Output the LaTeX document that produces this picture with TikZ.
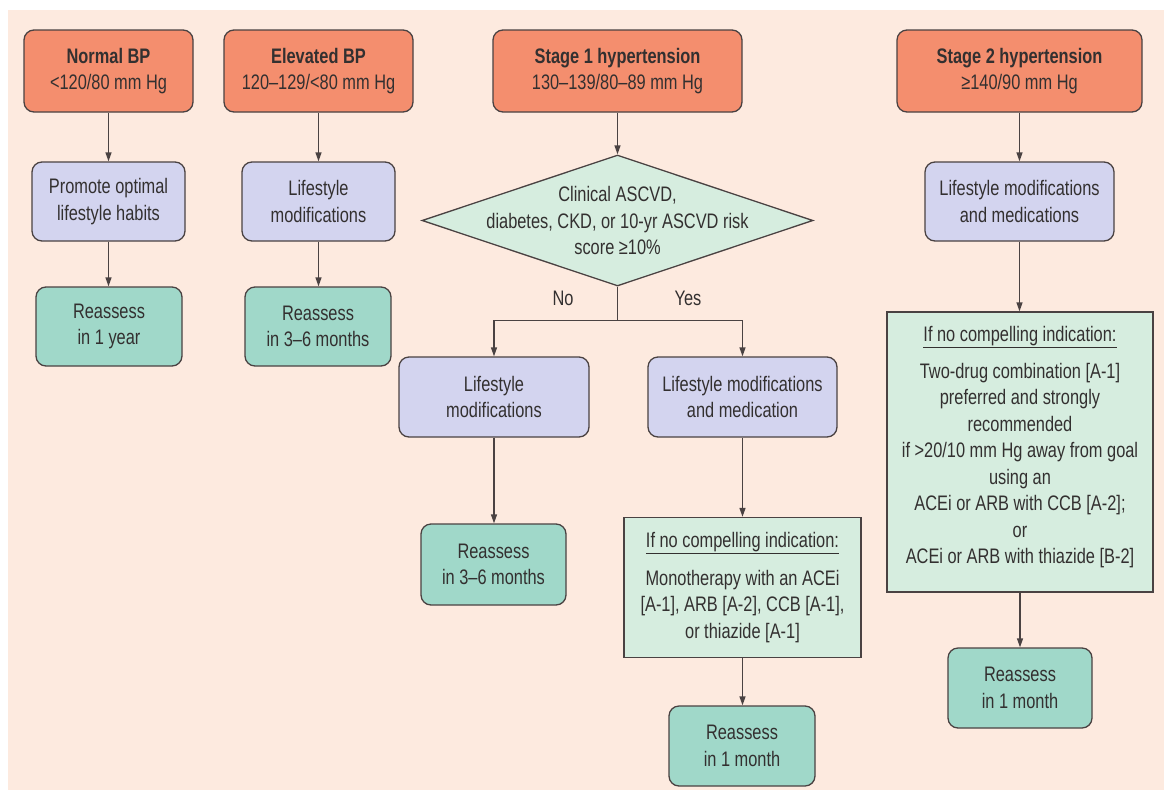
\documentclass[tikz,border=0pt]{standalone}
\usepackage{fontspec}
\setmainfont{Liberation Sans}[FakeStretch=0.78]
\usetikzlibrary{shapes.geometric,arrows.meta}
\definecolor{bgpeach}{HTML}{FDEADF}
\definecolor{orangefill}{HTML}{F48E6E}
\definecolor{purplefill}{HTML}{D3D4EF}
\definecolor{tealfill}{HTML}{A0D8C9}
\definecolor{infofill}{HTML}{D6EDDF}
\definecolor{edgecol}{HTML}{4A4242}
\definecolor{txtcol}{HTML}{333030}
\tikzset{
  basebox/.style={draw=edgecol, line width=1.3pt, align=center, inner sep=2pt,
    text=txtcol, font=\fontsize{21}{26.5}\selectfont},
  stagebox/.style={basebox, fill=orangefill, rounded corners=10pt},
  actbox/.style={basebox, fill=purplefill, rounded corners=10pt},
  reassbox/.style={basebox, fill=tealfill, rounded corners=10pt},
  infobox/.style={basebox, fill=infofill},
  lbl/.style={text=txtcol, font=\fontsize{21}{26.5}\selectfont},
  arr/.style={draw=edgecol, line width=1.3pt, -{Triangle[length=9pt,width=6pt]}},
  ln/.style={draw=edgecol, line width=1.3pt}
}
\begin{document}
\begin{tikzpicture}[x=1pt,y=-1pt]
\useasboundingbox (0,0) rectangle (1164,790);
\fill[white] (0,0) rectangle (1164,790);
\fill[bgpeach] (8,10) rectangle (1164,790);

% top stage boxes
\node[stagebox, minimum width=169pt, minimum height=82pt] (n1) at (108.5,71) {\textbf{Normal BP}\\<120/80 mm Hg};
\node[stagebox, minimum width=189pt, minimum height=82pt] (n2) at (318.5,71) {\textbf{Elevated BP}\\120–129/<80 mm Hg};
\node[stagebox, minimum width=249pt, minimum height=82pt] (n3) at (617.5,71) {\textbf{Stage 1 hypertension}\\130–139/80–89 mm Hg};
\node[stagebox, minimum width=245pt, minimum height=82pt] (n4) at (1019.5,71) {\textbf{Stage 2 hypertension}\\≥140/90 mm Hg};

% action boxes
\node[actbox, minimum width=153pt, minimum height=79pt] (p1) at (108.5,201.5) {Promote optimal\\lifestyle habits};
\node[actbox, minimum width=153pt, minimum height=79pt] (p2) at (318.5,201.5) {Lifestyle\\modifications};
\node[actbox, minimum width=189pt, minimum height=79pt] (p4) at (1019.5,201.5) {Lifestyle modifications\\and medications};

% reassess boxes
\node[reassbox, minimum width=146pt, minimum height=79pt] (r1) at (109,326.5) {Reassess\\in 1 year};
\node[reassbox, minimum width=146pt, minimum height=79pt] (r2) at (318,326.5) {Reassess\\in 3–6 months};

% decision diamond
\node[diamond, draw=edgecol, line width=1.3pt, fill=infofill, inner sep=0pt,
      minimum width=391pt, minimum height=131pt] (dia) at (617.5,220.5) {};
\node[lbl, align=center] (diatext) at (dia.center) {Clinical ASCVD,\\diabetes, CKD, or 10-yr ASCVD risk\\score ≥10\%};

\node[lbl] (lno) at (563,298) {No};
\node[lbl] (lyes) at (688,298) {Yes};

% stage 1 branches
\node[actbox, minimum width=190pt, minimum height=80pt] (p3a) at (494,397) {Lifestyle\\modifications};
\node[actbox, minimum width=189pt, minimum height=80pt] (p3b) at (742.5,397) {Lifestyle modifications\\and medication};
\node[reassbox, minimum width=145pt, minimum height=81pt] (r3a) at (493.5,564.5) {Reassess\\in 3–6 months};
\node[infobox, minimum width=237pt, minimum height=140pt] (i3) at (742.5,587.5)
  {\underline{If no compelling indication:}\\[11pt]Monotherapy with an ACEi\\{}[A-1], ARB [A-2], CCB [A-1],\\or thiazide [A-1]};
\node[reassbox, minimum width=146pt, minimum height=80pt] (r3b) at (742,746) {Reassess\\in 1 month};

% stage 2 column
\node[infobox, minimum width=266pt, minimum height=280pt] (i4) at (1020,452)
  {\underline{If no compelling indication:}\\[10pt]Two-drug combination [A-1]\\preferred and strongly\\recommended\\if >20/10 mm Hg away from goal\\using an\\ACEi or ARB with CCB [A-2];\\or\\ACEi or ARB with thiazide [B-2]\rule[-14pt]{0pt}{14pt}};
\node[reassbox, minimum width=144pt, minimum height=80pt] (r4) at (1020,688) {Reassess\\in 1 month};

% connectors
\draw[arr] (n1.south) -- (p1.north);
\draw[arr] (p1.south) -- (r1.north -| p1.south);
\draw[arr] (n2.south) -- (p2.north);
\draw[arr] (p2.south) -- (r2.north -| p2.south);
\draw[arr] (n3.south) -- (dia.north);
\draw[ln] (dia.south) -- ++(0,34) coordinate (split);
\draw[arr] (split) -| (p3a.north);
\draw[arr] (split) -| (p3b.north);
\draw[arr] (p3a.south) -- (r3a.north -| p3a.south);
\draw[arr] (p3b.south) -- (i3.north);
\draw[arr] (i3.south) -- (r3b.north -| i3.south);
\draw[arr] (n4.south) -- (p4.north);
\draw[arr] (p4.south) -- (i4.north -| p4.south);
\draw[arr] (i4.south) -- (r4.north);
\end{tikzpicture}
\end{document}
